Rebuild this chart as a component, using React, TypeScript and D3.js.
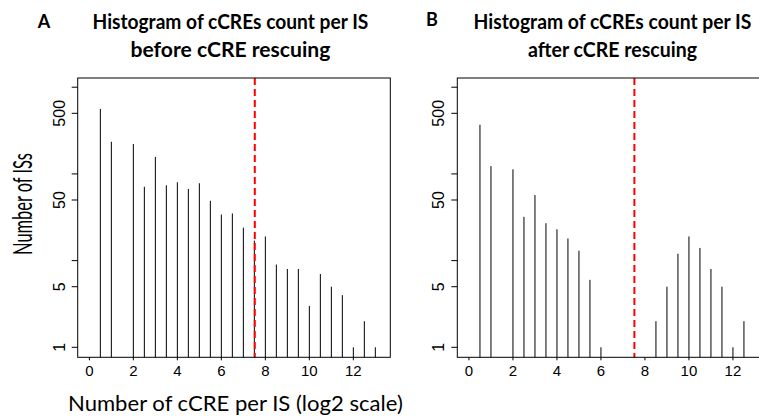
import React, { useEffect, useRef } from 'react';
import * as d3 from 'd3';

// log2(cCRE count) bins and number of ISs per bin
const binsBefore = [0.5, 1, 2, 2.5, 3, 3.5, 4, 4.5, 5, 5.5, 6, 6.5, 7, 7.5, 8, 8.5, 9, 9.5, 10, 10.5, 11, 11.5, 12, 12.5, 13];
const countsBefore = [561, 235, 221, 71, 157, 74, 80, 67, 78, 49, 34, 35, 24, 17, 19, 9, 8, 8, 3, 7, 5, 4, 1, 2, 1];

const binsAfter = [0.5, 1, 2, 2.5, 3, 3.5, 4, 4.5, 5, 5.5, 6, 8.5, 9, 9.5, 10, 10.5, 11, 11.5, 12, 12.5];
const countsAfter = [369, 123, 113, 32, 57, 27, 23, 18, 13, 6, 1, 2, 5, 12, 19, 14, 8, 5, 1, 2];

const cutoff = 7.52;

const xTicks = [0, 2, 4, 6, 8, 10, 12];
const yTicks = [1, 5, 10, 50, 100, 500, 1000];
const yLabels = [1, 5, 50, 500];

const panelTags = ['A', 'B'];
const titleLine1 = 'Histogram of cCREs count per IS';
const titleLine2 = ['before cCRE rescuing', 'after cCRE rescuing'];
const xTitle = 'Number of cCRE per IS (log2 scale)';
const yTitle = 'Number of ISs';

// squeeze a text horizontally so it spans `w` px (Calibri-like narrow look)
const fitText = (sel: any, x: number, y: number, w: number, rotate = 0) => {
  const node = sel.node() as SVGTextElement;
  const natural = node.getComputedTextLength() || w;
  sel.attr('x', 0).attr('y', 0)
    .attr('transform', `translate(${x},${y}) rotate(${rotate}) scale(${w / natural},1)`);
};

const App = () => {
  const svgRef = useRef<SVGSVGElement>(null);

  useEffect(() => {
    const width = 759;
    const height = 419;
    const svg = d3.select(svgRef.current);
    svg.selectAll('*').remove();
    svg.attr('width', width).attr('height', height);

    const titleFont = 'Lato, "Open Sans", sans-serif';
    const tickFont = '"Liberation Sans", Arial, sans-serif';

    const panels = [
      { left: 77.7, bins: binsBefore, counts: countsBefore, cx: 230.5, w1: 276, w2: 200, tagX: 44, tagY: 28 },
      { left: 457.3, bins: binsAfter, counts: countsAfter, cx: 612.6, w1: 278, w2: 169, tagX: 432, tagY: 25.5 },
    ];
    const top = 78;
    const bottom = 357.3;
    const boxW = 312.6;

    panels.forEach((p, i) => {
      const x = d3.scaleLinear().domain([-0.53, 13.68]).range([p.left, p.left + boxW]);
      const y = d3.scaleLog().domain([0.767, 1277]).range([bottom, top]);

      const g = svg.append('g');

      // histogram spikes
      g.selectAll('line.bar')
        .data(p.bins)
        .enter()
        .append('line')
        .attr('class', 'bar')
        .attr('x1', d => x(d))
        .attr('x2', d => x(d))
        .attr('y1', bottom)
        .attr('y2', (d, j) => y(p.counts[j]))
        .attr('stroke', '#000')
        .attr('stroke-width', 1);

      // cutoff
      g.append('line')
        .attr('x1', x(cutoff))
        .attr('x2', x(cutoff))
        .attr('y1', top)
        .attr('y2', bottom)
        .attr('stroke', '#ff0000')
        .attr('stroke-width', 2)
        .attr('stroke-dasharray', '7,4');

      // frame (panel B runs off the right edge)
      g.append('rect')
        .attr('x', p.left)
        .attr('y', top)
        .attr('width', Math.min(boxW, width + 20 - p.left))
        .attr('height', bottom - top)
        .attr('fill', 'none')
        .attr('stroke', '#000')
        .attr('stroke-width', 1);

      // y ticks
      g.selectAll('line.ytick')
        .data(yTicks)
        .enter()
        .append('line')
        .attr('x1', p.left - 6)
        .attr('x2', p.left)
        .attr('y1', d => y(d))
        .attr('y2', d => y(d))
        .attr('stroke', '#000');

      g.selectAll('text.ylab')
        .data(yLabels)
        .enter()
        .append('text')
        .attr('transform', d => `translate(${p.left - 13},${y(d)}) rotate(-90)`)
        .attr('text-anchor', 'middle')
        .attr('font-family', tickFont)
        .attr('font-size', 16)
        .text(d => d);

      // x ticks
      g.selectAll('line.xtick')
        .data(xTicks)
        .enter()
        .append('line')
        .attr('x1', d => x(d))
        .attr('x2', d => x(d))
        .attr('y1', bottom)
        .attr('y2', bottom + 3)
        .attr('stroke', '#000');

      g.selectAll('text.xlab')
        .data(xTicks)
        .enter()
        .append('text')
        .attr('x', d => x(d))
        .attr('y', 376)
        .attr('text-anchor', 'middle')
        .attr('font-family', tickFont)
        .attr('font-size', 15)
        .text(d => d);

      // titles
      svg.append('text')
        .attr('x', p.tagX)
        .attr('y', p.tagY)
        .attr('text-anchor', 'middle')
        .attr('font-family', titleFont)
        .attr('font-weight', 'bold')
        .attr('font-size', 18)
        .text(panelTags[i]);

      const t1 = svg.append('text')
        .attr('font-family', titleFont)
        .attr('font-weight', 'bold')
        .attr('font-size', 21)
        .text(titleLine1);
      fitText(t1, p.cx - p.w1 / 2, 29, p.w1);

      const t2 = svg.append('text')
        .attr('font-family', titleFont)
        .attr('font-weight', 'bold')
        .attr('font-size', 21)
        .text(titleLine2[i]);
      fitText(t2, p.cx - p.w2 / 2, 57, p.w2);
    });

    // axis titles
    const xt = svg.append('text')
      .attr('font-family', titleFont)
      .attr('font-size', 22)
      .text(xTitle);
    fitText(xt, 68, 411, 335);

    const yt = svg.append('text')
      .attr('font-family', titleFont)
      .attr('font-size', 27)
      .text(yTitle);
    fitText(yt, 32, 255, 102, -90);
  }, []);

  return (
    <div style={{ position: 'absolute', left: 0, top: 0, width: 759, height: 419, overflow: 'hidden', background: '#fff' }}>
      <svg ref={svgRef} style={{ display: 'block' }}></svg>
    </div>
  );
};

export default App;
